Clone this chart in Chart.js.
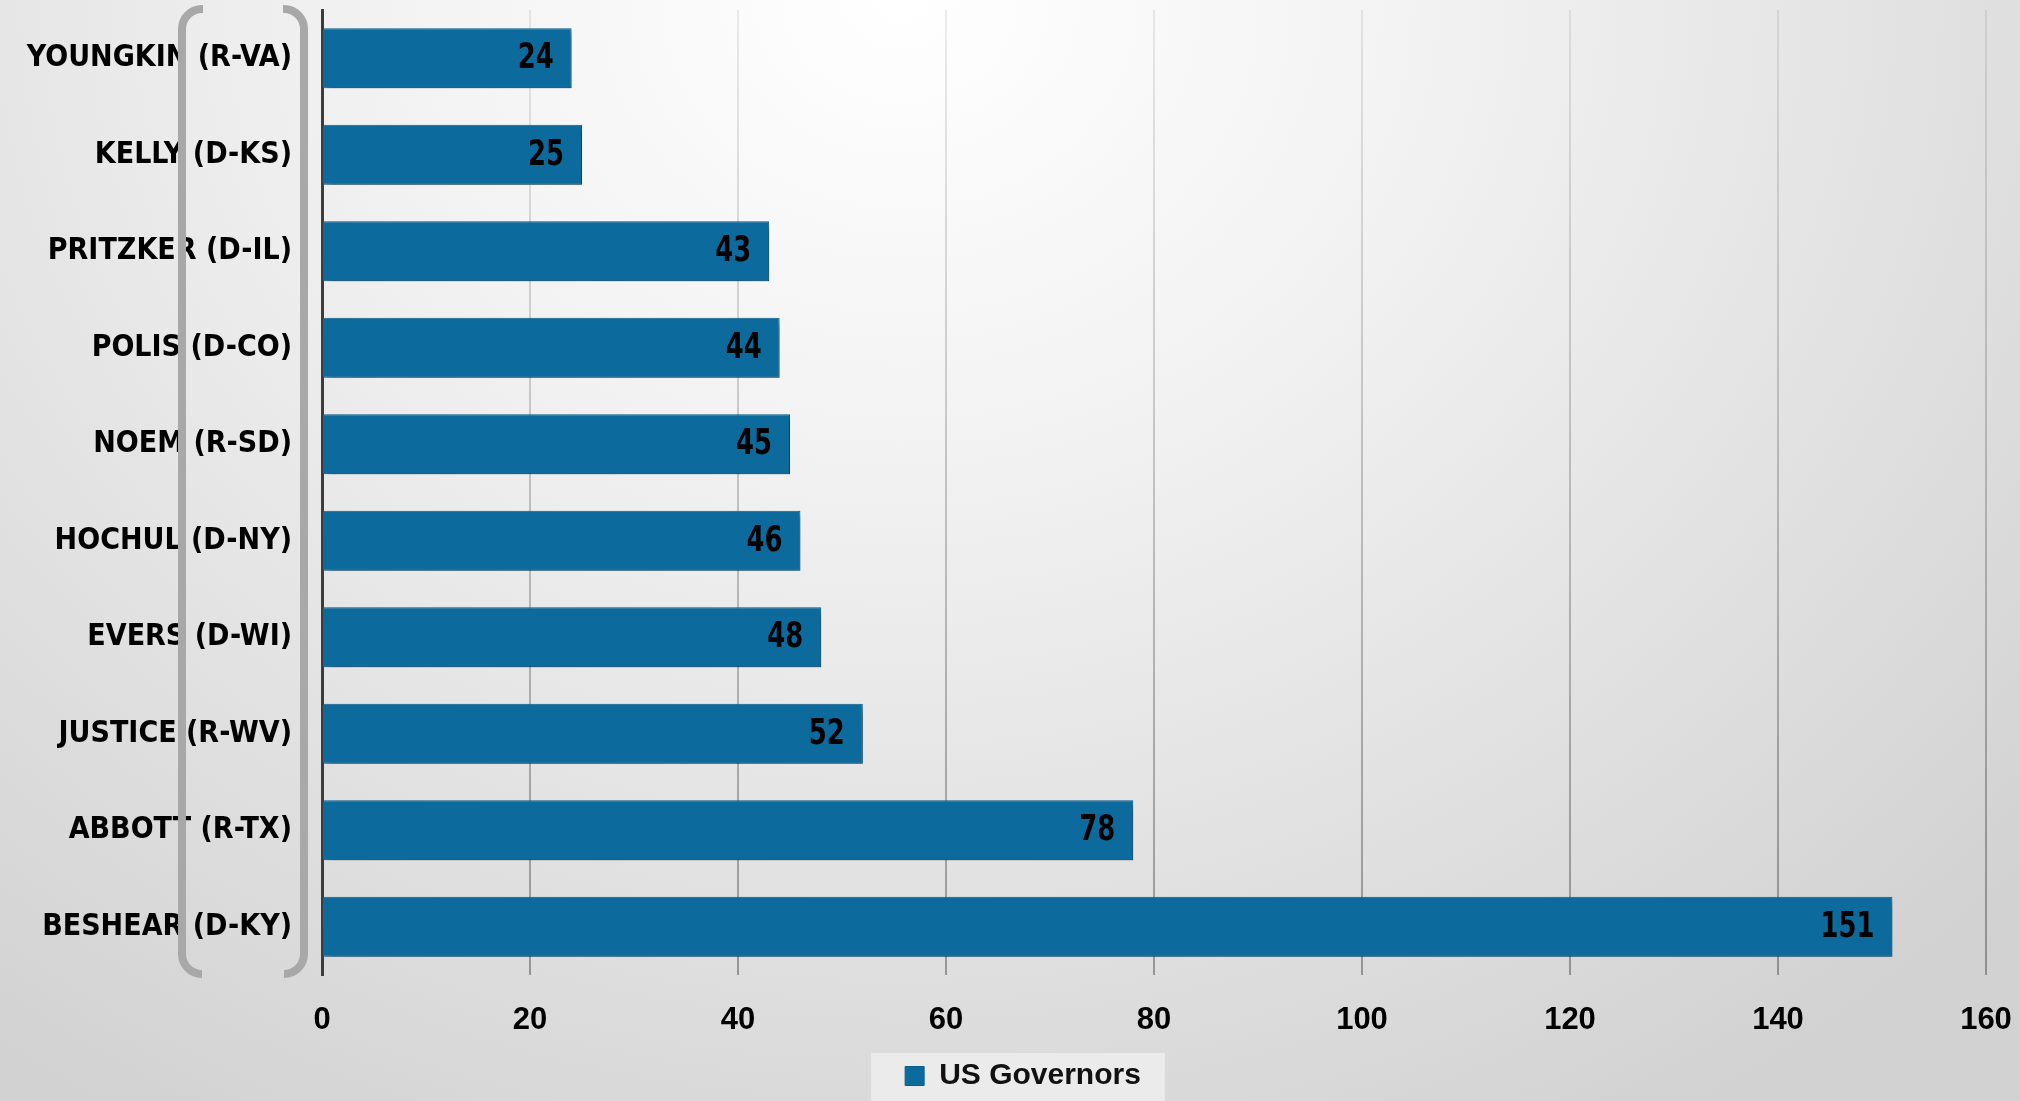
<!DOCTYPE html>
<html>
<head>
<meta charset="utf-8">
<script src="https://cdn.jsdelivr.net/npm/chart.js@4.4.1/dist/chart.umd.min.js"></script>
<style>
  html, body { margin: 0; padding: 0; }
  body {
    width: 2020px; height: 1101px; overflow: hidden;
    background: radial-gradient(ellipse 1500px 1300px at 900px 0px, #ffffff 0%, #f2f2f2 35%, #d2d2d2 100%);
  }
  #wrap { position: absolute; left: 0; top: 0; width: 2020px; height: 1101px; }
</style>
</head>
<body>
<div id="wrap"><canvas id="c" width="2020" height="1101"></canvas></div>
<script>
const categories = [
  'YOUNGKIN (R-VA)', 'KELLY (D-KS)', 'PRITZKER (D-IL)', 'POLIS (D-CO)', 'NOEM (R-SD)',
  'HOCHUL (D-NY)', 'EVERS (D-WI)', 'JUSTICE (R-WV)', 'ABBOTT (R-TX)', 'BESHEAR (D-KY)'
];
const seriesName = 'US Governors';
const values = [24, 25, 43, 44, 45, 46, 48, 52, 78, 151];
const xTicks = [0, 20, 40, 60, 80, 100, 120, 140, 160];

const NARROW = '"DejaVu Sans Condensed", "Liberation Sans", sans-serif';
const WIDE = '"Liberation Sans", Arial, sans-serif';
const BAR = '#0D6A9D';

const barShadow = {
  id: 'barShadow',
  beforeDatasetsDraw(chart) {
    const ctx = chart.ctx;
    ctx.save();
    ctx.shadowColor = 'rgba(0,0,0,0.38)';
    ctx.shadowBlur = 7;
    ctx.shadowOffsetX = 4;
    ctx.shadowOffsetY = 4;
  },
  afterDatasetsDraw(chart) {
    chart.ctx.restore();
    // value labels at inside-end of each bar
    const ctx = chart.ctx;
    const meta = chart.getDatasetMeta(0);
    const sx = 0.82;
    meta.data.forEach((bar, i) => {
      ctx.save();
      ctx.font = 'bold 35px ' + NARROW;
      ctx.fillStyle = '#000';
      ctx.textAlign = 'right';
      ctx.textBaseline = 'middle';
      ctx.translate(bar.x - 18, bar.y + 1);
      ctx.scale(sx, 1);
      ctx.fillText(String(chart.data.datasets[0].data[i]), 0, 0);
      ctx.restore();
    });
  }
};

const legendShift = {
  id: 'legendShift',
  afterLayout(chart) {
    const lg = chart.legend;
    if (!lg) return;
    lg.left += 30; lg.right += 30;
  }
};

const legendBg = {
  id: 'legendBg',
  beforeDraw(chart) {
    const lg = chart.legend;
    if (!lg || !lg.legendHitBoxes || !lg.legendHitBoxes.length) return;
    const hb = lg.legendHitBoxes[0];
    const ctx = chart.ctx;
    ctx.save();
    ctx.fillStyle = 'rgba(236,236,236,0.95)';
    ctx.fillRect(hb.left - 34, lg.top, hb.width + 58, chart.height - lg.top);
    ctx.restore();
  }
};

const bracket = {
  id: 'bracket',
  afterDraw(chart) {
    const a = chart.chartArea;
    const ctx = chart.ctx;
    const lx = a.left - 140, rx = a.left - 18;
    const top = a.top - 1, bot = a.bottom - 1, r = 20, stub = 21;
    ctx.save();
    ctx.strokeStyle = '#a8a8a8';
    ctx.lineWidth = 8;
    ctx.lineCap = 'butt';
    ctx.beginPath();
    ctx.moveTo(lx + stub, top);
    ctx.arcTo(lx, top, lx, top + r, r);
    ctx.lineTo(lx, bot - r);
    ctx.arcTo(lx, bot, lx + stub, bot, r);
    ctx.stroke();
    ctx.beginPath();
    ctx.moveTo(rx - stub, top);
    ctx.arcTo(rx, top, rx, top + r, r);
    ctx.lineTo(rx, bot - r);
    ctx.arcTo(rx, bot, rx - stub, bot, r);
    ctx.stroke();
    ctx.restore();
  }
};

new Chart(document.getElementById('c'), {
  type: 'bar',
  data: {
    labels: categories,
    datasets: [{
      label: seriesName,
      data: values,
      backgroundColor: BAR,
      borderColor: '#0B5F8E',
      borderWidth: 1,
      barPercentage: 0.62,
      categoryPercentage: 1.0
    }]
  },
  options: {
    indexAxis: 'y',
    responsive: false,
    animation: false,
    layout: { padding: { top: 10, right: 34, left: 0, bottom: 0 } },
    plugins: {
      tooltip: { enabled: false },
      legend: {
        position: 'bottom',
        labels: {
          boxWidth: 19, boxHeight: 19, padding: 8,
          color: '#111',
          font: { family: WIDE, size: 30, weight: 'bold' }
        }
      }
    },
    scales: {
      x: {
        min: 0, max: 160,
        afterBuildTicks(s) { s.ticks = xTicks.map(v => ({ value: v })); },
        grid: {
          drawTicks: false,
          lineWidth: 2,
          color(c) {
            const ch = c.chart, a = ch.chartArea;
            if (!a) return '#c8c8c8';
            const g = ch.ctx.createLinearGradient(0, a.top, 0, a.bottom);
            g.addColorStop(0, 'rgba(0,0,0,0.07)');
            g.addColorStop(1, 'rgba(0,0,0,0.32)');
            return g;
          }
        },
        border: { display: false },
        ticks: {
          padding: 27,
          color: '#000',
          font: { family: WIDE, size: 31, weight: 'bold' }
        },
        afterFit(s) { s.height = 78; s.paddingLeft = 0; s.paddingRight = 0; }
      },
      y: {
        grid: { display: false, drawTicks: false },
        border: { display: true, color: '#3c3c3c', width: 3 },
        ticks: {
          padding: 30,
          color: '#000',
          font: { family: NARROW, size: 30, weight: 'bold' }
        },
        afterFit(s) { s.width = 322; s.paddingTop = 0; s.paddingBottom = 0; }
      }
    }
  },
  plugins: [legendShift, legendBg, barShadow, bracket]
});
</script>
</body>
</html>
